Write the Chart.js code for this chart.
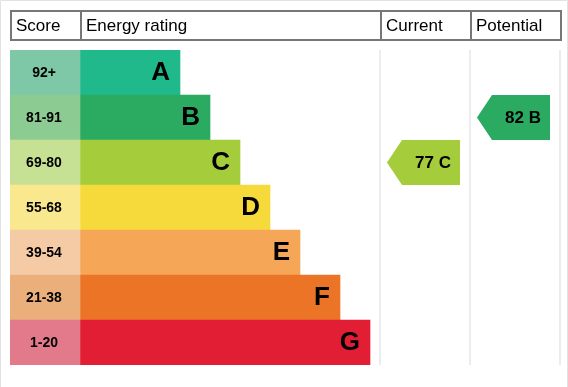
<!DOCTYPE html>
<html>
<head>
<meta charset="utf-8">
<script src="https://cdn.jsdelivr.net/npm/chart.js@4"></script>
<style>
	body { margin: 0; background: #ffffff; }
	canvas { display: block; }
</style>
</head>
<body>
<canvas id="epcChart" width="568" height="387"></canvas>
<script>
	// energy bands, top (best) to bottom (worst)
	var bandLetters = ['A', 'B', 'C', 'D', 'E', 'F', 'G'];
	var scoreRanges = ['92+', '81-91', '69-80', '55-68', '39-54', '21-38', '1-20'];
	// length of each rating bar (units of the x scale)
	var bandLengths = [100, 130, 160, 190, 220, 260, 290];
	var bandColors = ['#1fb98b', '#2aab61', '#a5cc3b', '#f6da3c', '#f5a657', '#ec7426', '#e21e35'];
	var scoreColors = ['#7fc8a7', '#8ccb92', '#c7e194', '#f9e88e', '#f5cba5', '#ebaf7c', '#e37a8b'];

	// table columns: start/end on the x scale
	var columnTitles = ['Score', 'Energy rating', 'Current', 'Potential'];
	var columnEdges = [0, 70, 370, 460, 550];

	// current and potential ratings
	var currentScore = 77, currentBand = 'C';
	var potentialScore = 82, potentialBand = 'B';

	var fontFamily = '"Liberation Sans", Arial, sans-serif';

	var scoreBars = bandLetters.map(function (b, i) { return [columnEdges[0], columnEdges[1]]; });
	var ratingBars = bandLengths.map(function (len) { return [columnEdges[1], columnEdges[1] + len]; });

	/**
	 * Draws the header boxes, column separators, labels and arrows
	 */
	var epcPlugin = {
		id: 'epc',
		beforeDatasetsDraw: function (chart) {
			var ctx = chart.ctx;
			var x = chart.scales.x;
			var area = chart.chartArea;

			// faint outer frame
			ctx.save();
			ctx.strokeStyle = '#e2e2e2';
			ctx.lineWidth = 1;
			ctx.beginPath();
			ctx.moveTo(0.5, chart.height);
			ctx.lineTo(0.5, 0.5);
			ctx.lineTo(chart.width - 0.5, 0.5);
			ctx.lineTo(chart.width - 0.5, chart.height);
			ctx.stroke();

			// light column separators
			ctx.strokeStyle = '#ececec';
			ctx.lineWidth = 2;
			for (var i = 2; i < columnEdges.length; i++) {
				var px = x.getPixelForValue(columnEdges[i]);
				ctx.beginPath();
				ctx.moveTo(px, area.top);
				ctx.lineTo(px, area.bottom);
				ctx.stroke();
			}

			// header boxes
			ctx.strokeStyle = '#777777';
			ctx.lineWidth = 2;
			ctx.fillStyle = '#000000';
			ctx.font = '17px ' + fontFamily;
			ctx.textAlign = 'left';
			ctx.textBaseline = 'alphabetic';
			for (var c = 0; c < columnTitles.length; c++) {
				var left = x.getPixelForValue(columnEdges[c]);
				var right = x.getPixelForValue(columnEdges[c + 1]);
				ctx.strokeRect(left + 1, 11, right - left, 29);
				ctx.fillText(columnTitles[c], left + 6, 31);
			}
			ctx.restore();
		},
		afterDatasetsDraw: function (chart) {
			var ctx = chart.ctx;
			var x = chart.scales.x;
			var y = chart.scales.y;
			var rowHeight = (chart.chartArea.bottom - chart.chartArea.top) / bandLetters.length;

			ctx.save();
			ctx.fillStyle = '#000000';

			// score ranges
			ctx.font = 'bold 14px ' + fontFamily;
			ctx.textAlign = 'center';
			ctx.textBaseline = 'middle';
			scoreRanges.forEach(function (label, i) {
				var cx = x.getPixelForValue((columnEdges[0] + columnEdges[1]) / 2) - 1;
				ctx.fillText(label, cx, y.getPixelForValue(i) + 1);
			});

			// band letters
			ctx.font = 'bold 26px ' + fontFamily;
			ctx.textAlign = 'right';
			ctx.textBaseline = 'alphabetic';
			ratingBars.forEach(function (bar, i) {
				ctx.fillText(bandLetters[i], x.getPixelForValue(bar[1]) - 10, y.getPixelForValue(i) + 7);
			});

			// arrows
			function drawArrow(col, score, band) {
				var i = bandLetters.indexOf(band);
				var cy = y.getPixelForValue(i);
				var tip = x.getPixelForValue(columnEdges[col] + 7);
				var end = x.getPixelForValue(columnEdges[col + 1] - 10);
				var half = rowHeight / 2;
				ctx.fillStyle = bandColors[i];
				ctx.beginPath();
				ctx.moveTo(tip, cy);
				ctx.lineTo(tip + 15, cy - half);
				ctx.lineTo(end, cy - half);
				ctx.lineTo(end, cy + half);
				ctx.lineTo(tip + 15, cy + half);
				ctx.closePath();
				ctx.fill();

				ctx.fillStyle = '#000000';
				ctx.font = 'bold 17px ' + fontFamily;
				ctx.textAlign = 'right';
				ctx.textBaseline = 'middle';
				ctx.fillText(score + ' ' + band, end - 9, cy + 1);
			}
			drawArrow(2, currentScore, currentBand);
			drawArrow(3, potentialScore, potentialBand);
			ctx.restore();
		}
	};

	var ctx = document.getElementById('epcChart').getContext('2d');
	var epcChart = new Chart(ctx, {
		type: 'bar',
		data: {
			labels: bandLetters,
			datasets: [{
				label: 'Score',
				data: scoreBars,
				backgroundColor: scoreColors,
				grouped: false,
				categoryPercentage: 1,
				barPercentage: 1,
				borderWidth: 0,
			}, {
				label: 'Energy rating',
				data: ratingBars,
				backgroundColor: bandColors,
				grouped: false,
				categoryPercentage: 1,
				barPercentage: 1,
				borderWidth: 0,
			}],
		},
		options: {
			indexAxis: 'y',
			responsive: false,
			animation: false,
			layout: {
				padding: { left: 10, right: 8, top: 50, bottom: 22 }
			},
			plugins: {
				legend: { display: false },
				tooltip: { enabled: false }
			},
			scales: {
				x: { type: 'linear', min: columnEdges[0], max: columnEdges[columnEdges.length - 1], display: false },
				y: { display: false }
			}
		},
		plugins: [epcPlugin]
	});
</script>
</body>
</html>
